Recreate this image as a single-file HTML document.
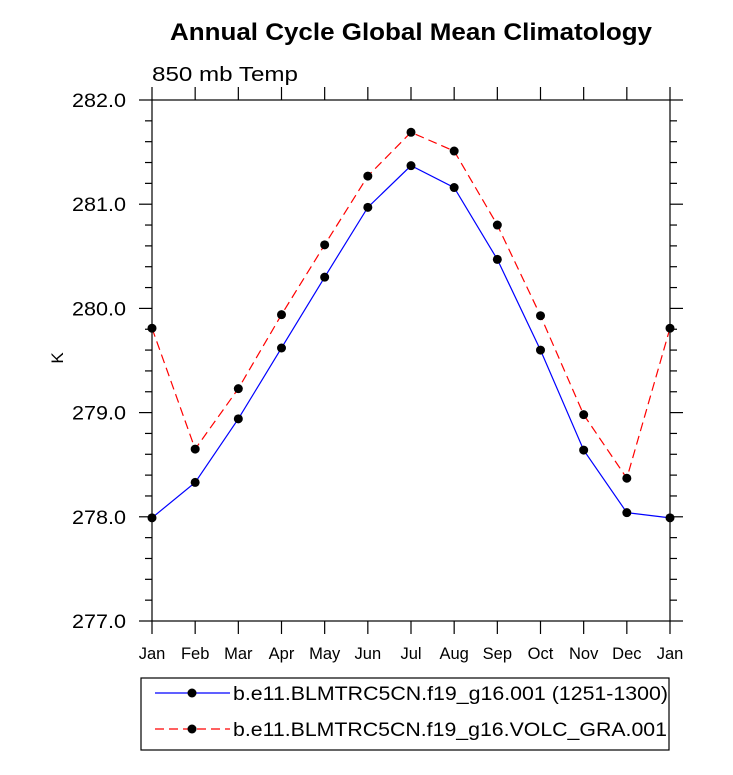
<!DOCTYPE html>
<html><head><meta charset="utf-8"><style>
body{margin:0;background:#fff;}
svg text{font-family:"Liberation Sans",Arial,sans-serif;fill:#000;}
</style></head><body>
<svg id="chart" width="733" height="770" viewBox="0 0 733 770" xmlns="http://www.w3.org/2000/svg">
<text x="170" y="40" font-size="24" font-weight="bold" textLength="482" lengthAdjust="spacingAndGlyphs">Annual Cycle Global Mean Climatology</text>
<text x="152" y="81" font-size="20.5" textLength="146" lengthAdjust="spacingAndGlyphs">850 mb Temp</text>
<text x="63" y="358" font-size="17" text-anchor="middle" transform="rotate(-90 63 358)">K</text>
<rect x="152" y="100" width="518" height="521" fill="none" stroke="#000" stroke-width="1.2"/>
<g id="axes"></g>
<g id="series"></g>
<g>
<rect x="141" y="678" width="528" height="72" fill="#fff" stroke="#000" stroke-width="1.2"/>
<g>
<line x1="155" y1="693" x2="230" y2="693" stroke="#0000ff" stroke-width="1.2"/>
<circle cx="192" cy="693" r="4.5" fill="#000"/>
<text x="233" y="700" font-size="19" textLength="435" lengthAdjust="spacingAndGlyphs">b.e11.BLMTRC5CN.f19_g16.001 (1251-1300)</text>
</g>
<g>
<line x1="155" y1="729" x2="230" y2="729" stroke="#ff0000" stroke-width="1.2" stroke-dasharray="9,5"/>
<circle cx="192" cy="729" r="4.5" fill="#000"/>
<text x="233" y="736" font-size="19" textLength="434" lengthAdjust="spacingAndGlyphs">b.e11.BLMTRC5CN.f19_g16.VOLC_GRA.001</text>
</g>
</g>
</svg>
<script>
const months=["Jan","Feb","Mar","Apr","May","Jun","Jul","Aug","Sep","Oct","Nov","Dec","Jan"];
const controlValues=[277.99,278.33,278.94,279.62,280.30,280.97,281.37,281.16,280.47,279.60,278.64,278.04,277.99];
const volcValues=[279.81,278.65,279.23,279.94,280.61,281.27,281.69,281.51,280.80,279.93,278.98,278.37,279.81];
const yTicks=[277.0,278.0,279.0,280.0,281.0,282.0];
const X0=152,X1=670,Y0=621,Y1=100,YMIN=277,YMAX=282;
const NS="http://www.w3.org/2000/svg";
function xs(i){return X0+(X1-X0)*i/(months.length-1);}
function ys(v){return Y0-(v-YMIN)/(YMAX-YMIN)*(Y0-Y1);}
function mk(t,a,p){const e=document.createElementNS(NS,t);for(const k in a)e.setAttribute(k,a[k]);p.appendChild(e);return e;}
const ax=document.getElementById('axes');
months.forEach((m,i)=>{
  const x=xs(i);
  const t=mk('line',{x1:x,y1:Y0,x2:x,y2:Y0+13,stroke:'#000','stroke-width':1.2},ax);
  
  
  const t2=mk('line',{x1:x,y1:Y1,x2:x,y2:Y1-13,stroke:'#000','stroke-width':1.2},ax);
  
  
  const l=mk('text',{x:x,y:659,'font-size':16.5,'text-anchor':'middle'},ax);
  l.textContent=m;
  
  
});
for(let v=YMIN;v<=YMAX+1e-6;v+=0.2){
  const y=ys(v);const major=Math.abs(v-Math.round(v))<1e-6;const len=major?13:7;
  const a=mk('line',{x1:X0-len,y1:y,x2:X0,y2:y,stroke:'#000','stroke-width':1.2},ax);
  
  
  const b=mk('line',{x1:X1,y1:y,x2:X1+len,y2:y,stroke:'#000','stroke-width':1.2},ax);
  
  
}
yTicks.forEach(v=>{
  const l=mk('text',{x:72,y:ys(v)+7,'font-size':19,textLength:54,lengthAdjust:'spacingAndGlyphs'},ax);
  l.textContent=v.toFixed(1);
  
  
});
const sg=document.getElementById('series');
function drawSeries(vals,color,dash,name){
  const g=mk('g',{},sg);
  
  
  const pts=vals.map((v,i)=>xs(i)+','+ys(v)).join(' ');
  const pl=mk('polyline',{points:pts,fill:'none',stroke:color,'stroke-width':1.2},g);
  if(dash)pl.setAttribute('stroke-dasharray',dash);
  
  
  vals.forEach((v,i)=>{
    const c=mk('circle',{cx:xs(i),cy:ys(v),r:4.5,fill:'#000'},g);
    
    
  });
}
drawSeries(controlValues,'#0000ff',null,'control-series');
drawSeries(volcValues,'#ff0000','9,5','volc-series');
</script>
</body></html>
